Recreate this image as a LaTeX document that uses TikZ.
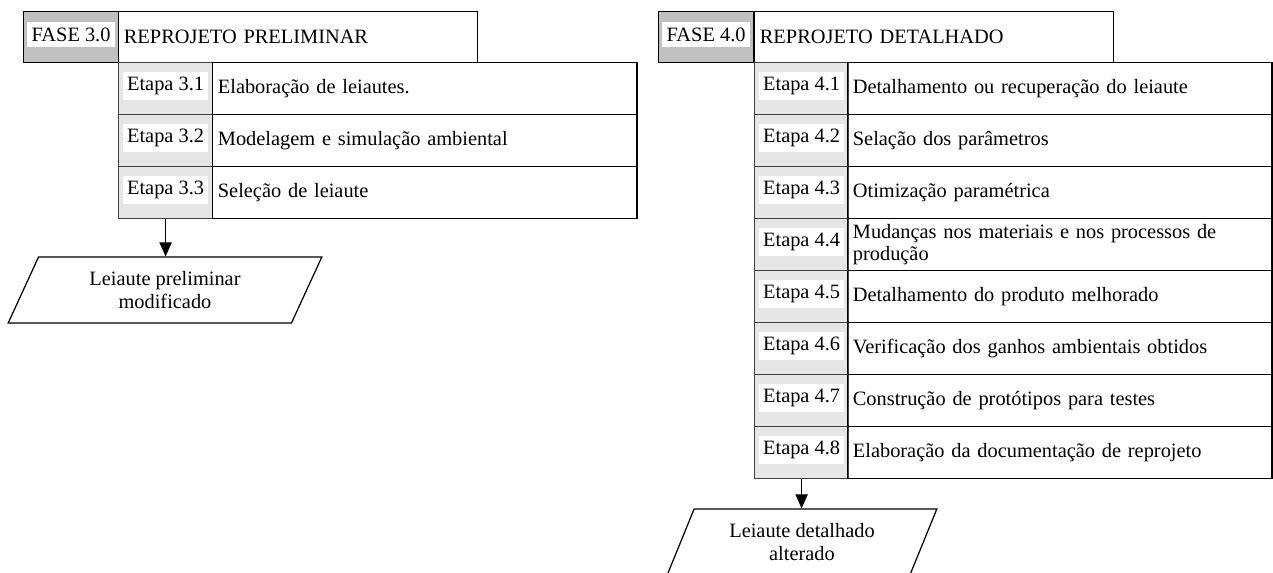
\documentclass[tikz,border=0pt]{standalone}
\usepackage{fontspec}
\setmainfont{Liberation Serif}
\usetikzlibrary{shapes.geometric,arrows.meta}

\definecolor{phasegray}{HTML}{C0C0C0}
\definecolor{stepgray}{HTML}{E6E6E6}

\tikzset{
  cellline/.style = {draw = black, line width = 0.7pt},
  phasecell/.style = {cellline, fill = phasegray, anchor = north west, inner sep = 0pt,
                      minimum width = 1.9cm, minimum height = 1.02cm},
  phasetitle/.style = {cellline, anchor = north west, inner xsep = 3pt, text width = 6.97cm,
                       align = left, minimum height = 1.02cm},
  stepcell/.style = {cellline, draw = black!75, fill = stepgray, anchor = north west, inner sep = 0pt,
                     minimum width = 1.88cm, minimum height = 1.04cm},
  tag/.style = {fill = white, inner xsep = 2.5pt, inner ysep = 3pt, yshift = 1.5pt},
  steptext/.style = {cellline, anchor = north west, inner xsep = 3pt, inner ysep = 1pt,
                     text width = 8.28cm, align = left, minimum height = 1.04cm},
  output/.style = {cellline, trapezium, trapezium left angle = 64, trapezium right angle = 116,
                   trapezium stretches = true, minimum width = 6.28cm, minimum height = 1.32cm,
                   align = center, inner sep = 0pt},
  flow/.style = {line width = 0.7pt, -{Triangle[length = 8pt, width = 7pt]}}
}

\begin{document}
\begin{tikzpicture}[x = 0.02cm, y = -0.02cm, font = \fontsize{11.6}{13}\selectfont]
\useasboundingbox (0,0) rectangle (1273,572);

% fase 3.0
\node[phasecell] (f3) at (23,11) {};
\node[tag] at (f3.center) {FASE 3.0};
\node[phasetitle] (f3t) at (118,11) {REPROJETO PRELIMINAR};

\node[stepcell] (s31) at (118,62) {};
\node[tag] at (s31.center) {Etapa 3.1};
\node[steptext] (t31) at (212,62) {Elaboração de leiautes.};

\node[stepcell] (s32) at (118,114) {};
\node[tag] at (s32.center) {Etapa 3.2};
\node[steptext] (t32) at (212,114) {Modelagem e simulação ambiental};

\node[stepcell] (s33) at (118,166) {};
\node[tag] at (s33.center) {Etapa 3.3};
\node[steptext] (t33) at (212,166) {Seleção de leiaute};

\node[output] (o3) at (165,290) {Leiaute preliminar\\modificado};
\draw[flow] (s33.south) -- (s33.south |- o3.north);

% fase 4.0
\node[phasecell] (f4) at (658,11) {};
\node[tag] at (f4.center) {FASE 4.0};
\node[phasetitle] (f4t) at (754,11) {REPROJETO DETALHADO};

\node[stepcell] (s41) at (754,62) {};
\node[tag] at (s41.center) {Etapa 4.1};
\node[steptext] (t41) at (847,62) {Detalhamento ou recuperação do leiaute};

\node[stepcell] (s42) at (754,114) {};
\node[tag] at (s42.center) {Etapa 4.2};
\node[steptext] (t42) at (847,114) {Selação dos parâmetros};

\node[stepcell] (s43) at (754,166) {};
\node[tag] at (s43.center) {Etapa 4.3};
\node[steptext] (t43) at (847,166) {Otimização paramétrica};

\node[stepcell] (s44) at (754,218) {};
\node[tag] at (s44.center) {Etapa 4.4};
\node[steptext] (t44) at (847,218) {Mudanças nos materiais e nos processos de\\produção};

\node[stepcell] (s45) at (754,270) {};
\node[tag] at (s45.center) {Etapa 4.5};
\node[steptext] (t45) at (847,270) {Detalhamento do produto melhorado};

\node[stepcell] (s46) at (754,322) {};
\node[tag] at (s46.center) {Etapa 4.6};
\node[steptext] (t46) at (847,322) {Verificação dos ganhos ambientais obtidos};

\node[stepcell] (s47) at (754,374) {};
\node[tag] at (s47.center) {Etapa 4.7};
\node[steptext] (t47) at (847,374) {Construção de protótipos para testes};

\node[stepcell] (s48) at (754,426) {};
\node[tag] at (s48.center) {Etapa 4.8};
\node[steptext] (t48) at (847,426) {Elaboração da documentação de reprojeto};

\node[output, minimum width = 5.4cm] (o4) at (802,542) {Leiaute detalhado\\alterado};
\draw[flow] (s48.south) -- (s48.south |- o4.north);
\end{tikzpicture}
\end{document}
